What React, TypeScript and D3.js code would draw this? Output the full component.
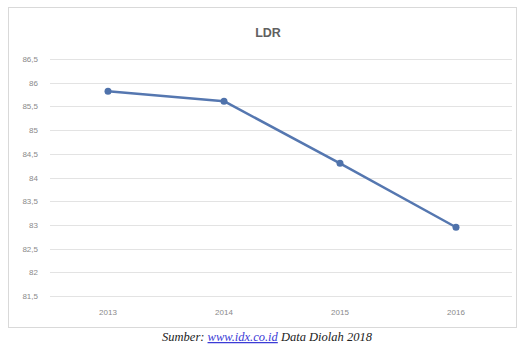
import React from "react";
import * as d3 from "d3";

const years = ["2013", "2014", "2015", "2016"];
const ldrValues = [85.82, 85.61, 84.3, 82.95];
const yTicks = [81.5, 82, 82.5, 83, 83.5, 84, 84.5, 85, 85.5, 86, 86.5];
const chartTitle = "LDR";

const W = 524;
const H = 345;

export default function App() {
  const x = d3.scaleBand<string>().domain(years).range([50, 514]);
  const y = d3.scaleLinear().domain([81.5, 86.5]).range([296, 59]);
  const line = d3
    .line<number>()
    .x((_, i) => (x(years[i]) as number) + x.bandwidth() / 2)
    .y((d) => y(d));
  const fmt = (v: number) => String(v).replace(".", ",");

  return (
    <svg
      width={W}
      height={H}
      style={{ position: "absolute", left: 0, top: 0, background: "#fff" }}
    >
      <rect x={0} y={0} width={W} height={H} fill="#fff" />
      <rect
        x={8.5}
        y={7.5}
        width={508}
        height={320}
        fill="#fff"
        stroke="#d9d9d9"
        strokeWidth={1}
      />
      <text
        x={268}
        y={37}
        textAnchor="middle"
        fontFamily="Liberation Sans, Arial, sans-serif"
        fontSize={12.5}
        fontWeight="bold"
        fill="#606060"
      >
        {chartTitle}
      </text>
      {yTicks.map((t) => (
        <g key={t}>
          <line
            x1={50}
            x2={512}
            y1={Math.round(y(t)) + 0.5}
            y2={Math.round(y(t)) + 0.5}
            stroke="#e3e3e3"
            strokeWidth={1}
          />
          <text
            x={38}
            y={y(t) + 3}
            textAnchor="end"
            fontFamily="Liberation Sans, Arial, sans-serif"
            fontSize={8}
            fill="#8a8a8a"
          >
            {fmt(t)}
          </text>
        </g>
      ))}
      {years.map((yr) => (
        <text
          key={yr}
          x={(x(yr) as number) + x.bandwidth() / 2}
          y={315}
          textAnchor="middle"
          fontFamily="Liberation Sans, Arial, sans-serif"
          fontSize={8}
          fill="#8a8a8a"
        >
          {yr}
        </text>
      ))}
      <path
        d={line(ldrValues) || ""}
        fill="none"
        stroke="#5577b0"
        strokeWidth={2.5}
        strokeLinejoin="round"
      />
      {ldrValues.map((v, i) => (
        <circle
          key={i}
          cx={(x(years[i]) as number) + x.bandwidth() / 2}
          cy={y(v)}
          r={3.5}
          fill="#4f72ab"
        />
      ))}
      <text
        x={267}
        y={341}
        textAnchor="middle"
        fontFamily="Liberation Serif, Times New Roman, serif"
        fontStyle="italic"
        fontSize={12.5}
        fill="#222"
      >
        <tspan>Sumber: </tspan>
        <tspan fill="#3b3bd6" textDecoration="underline">
          www.idx.co.id
        </tspan>
        <tspan> Data Diolah 2018</tspan>
      </text>
    </svg>
  );
}
